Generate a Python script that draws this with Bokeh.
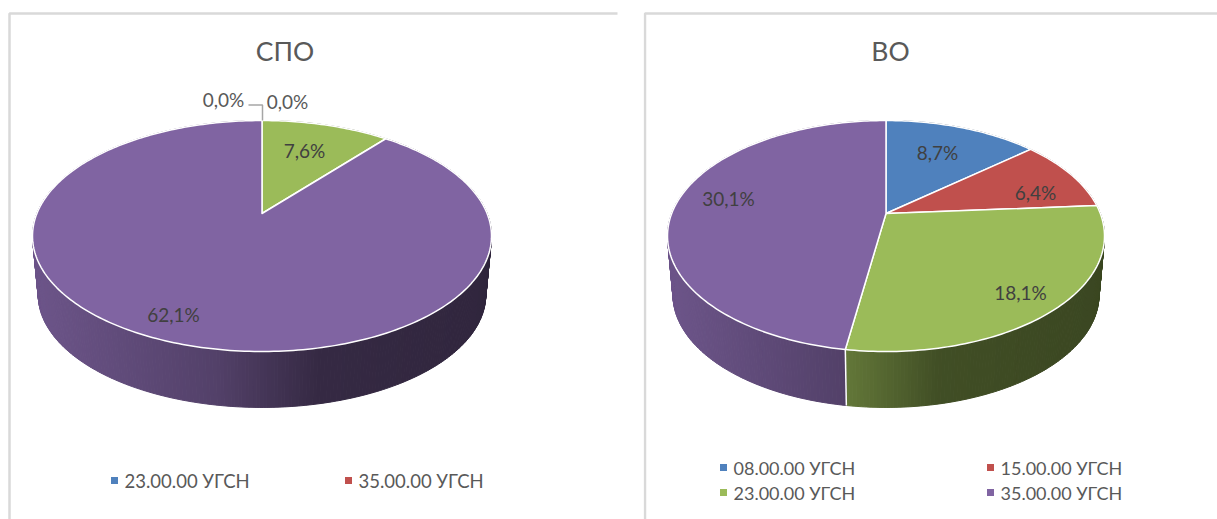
import math
from bokeh.embed import file_html
from bokeh.resources import INLINE
from bokeh.plotting import figure
from bokeh.layouts import row
from bokeh.models import Range1d
from bokeh.core.properties import value

# ---- data ----
spo_title = "СПО"
vo_title = "ВО"
spo_values = [0.0, 0.0, 7.6, 62.1]
vo_values = [8.7, 6.4, 18.1, 30.1]
spo_legend = ["23.00.00 УГСН", "35.00.00 УГСН"]
vo_legend = ["08.00.00 УГСН", "15.00.00 УГСН", "23.00.00 УГСН", "35.00.00 УГСН"]

# ---- style ----
COLORS = ["#4f81bd", "#c0504d", "#9bbb59", "#8064a2"]
FONT = "Lato"
K = 0.195
B = 111.1
APEX_Y = 213
SCALE2 = 0.975
LOWER_Y = 272.4
SHADE = [(0, .85), (.4, .65), (.62, .42), (1, .38)]


def shade(t):
    for (a, fa), (b, fb) in zip(SHADE, SHADE[1:]):
        if t <= b:
            return fa + (fb - fa) * (t - a) / (b - a)
    return SHADE[-1][1]


def darken(color, f):
    r, g, b = (int(color[i:i + 2], 16) for i in (1, 3, 5))
    return "#%02x%02x%02x" % (int(r * f), int(g * f), int(b * f))


def make(title, title_x, values, x0, x1, frame_x, frame_top, frame_right, cx, rx, labels, leg_items, leg_size):
    a = rx * math.sqrt(1 - K * K)
    p = figure(width=x1 - x0, height=519, x_range=Range1d(x0, x1), y_range=Range1d(519, 0),
               output_backend="svg", toolbar_location=None, min_border=0, outline_line_color=None,
               background_fill_color="white", border_fill_color="white")
    p.axis.visible = False
    p.grid.visible = False

    def top(th):
        u, v = math.sin(th), math.cos(th)
        w = 1 + K * v
        return cx + a * u / w, APEX_Y - B * v / w

    def low(th):
        u, v = math.sin(th), math.cos(th)
        w = 1 + K * v
        return cx + SCALE2 * a * u / w, LOWER_Y - SCALE2 * B * v / w

    total = sum(values)
    # frame
    p.line([frame_x, frame_x, frame_right], [519, frame_top, frame_top],
           line_color="#d9d9d9", line_width=2.5)

    # slice spans
    spans = []
    acc = 0.0
    for val, col in zip(values, COLORS):
        s = acc / total * 2 * math.pi
        acc += val
        e = acc / total * 2 * math.pi
        if val > 0:
            spans.append((s, e, col))

    # side wall
    xs, ys, cs = [], [], []
    for s, e, col in spans:
        n = max(2, int((e - s) / math.radians(0.75)))
        for i in range(n):
            t0 = s + (e - s) * i / n
            t1 = s + (e - s) * (i + 1) / n
            xa, ya = top(t0)
            xb, yb = top(t1)
            xc, yc = low(t1)
            xd, yd = low(t0)
            xs.append([xa, xb, xc, xd])
            ys.append([ya, yb, yc, yd])
            cs.append(darken(col, shade((0.5 * (xa + xb) - (cx - rx)) / (2 * rx))))
    p.patches(xs, ys, fill_color=cs, line_color=cs, line_width=1)

    # white seams on the visible wall
    for s, e, col in spans:
        if math.cos(s) < 0 and 0 < s:
            xa, ya = top(s)
            xd, yd = low(s)
            p.line([xa, xd], [ya, yd], line_color="white", line_width=1.5)

    # top face
    for s, e, col in spans:
        n = max(2, int((e - s) / math.radians(1)))
        pts = [top(s + (e - s) * i / n) for i in range(n + 1)]
        px = [cx] + [q[0] for q in pts]
        py = [APEX_Y] + [q[1] for q in pts]
        p.patch(px, py, fill_color=col, line_color="white", line_width=1.5, line_join="round")

    # data labels
    for txt, lx, ly, col in labels:
        p.text([lx], [ly], text=[txt], text_font=value(FONT), text_font_size="19px",
               text_color=col, text_align="center", text_baseline="middle")

    # title
    p.text([title_x], [50], text=[title], text_font=value(FONT), text_font_size="26.5px",
           text_color="#595959", text_align="center", text_baseline="middle")

    # legend
    for txt, mx, ty, col in leg_items:
        p.scatter([mx], [ty], marker="square", size=7, fill_color=col, line_color=None)
        p.text([mx + 10], [ty], text=[txt], text_font=value(FONT), text_font_size=leg_size,
               text_color="#595959", text_align="left", text_baseline="middle")
    return p


def pct(v):
    return f"{v:.1f}".replace(".", ",") + "%"


DARK = "#404040"
GREY = "#595959"
left = make(spo_title, 284.5, spo_values, 0, 643, 9, 13, 617, 261.5, 229.5,
            [(pct(spo_values[0]), 223, 99, GREY), (pct(spo_values[1]), 287, 101, GREY),
             (pct(spo_values[2]), 304, 150, DARK), (pct(spo_values[3]), 173, 314, DARK)],
            [(spo_legend[0], 114, 480, COLORS[0]), (spo_legend[1], 348, 480, COLORS[1])], "18.5px")
# leader line of the hidden zero slice
left.line([248, 262, 262], [104.5, 104.5, 120], line_color="#a6a6a6", line_width=1.5)

right = make(vo_title, 890, vo_values, 643, 1217, 644.5, 13, 1217, 885.5, 218.5,
             [(pct(vo_values[0]), 937, 152, DARK), (pct(vo_values[1]), 1035, 192, DARK),
              (pct(vo_values[2]), 1020, 292, DARK), (pct(vo_values[3]), 728, 198, DARK)],
             [(vo_legend[0], 723, 467, COLORS[0]), (vo_legend[1], 990, 467, COLORS[1]),
              (vo_legend[2], 723, 492, COLORS[2]), (vo_legend[3], 990, 492, COLORS[3])], "18px")

page = row(left, right, spacing=0)
open("out.html", "w").write(file_html(page, INLINE))
